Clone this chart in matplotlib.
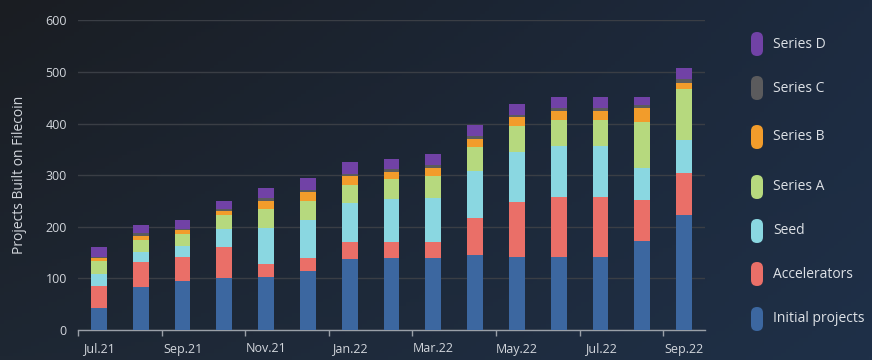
import numpy as np
import matplotlib
matplotlib.use("Agg")
import matplotlib.pyplot as plt
from matplotlib.patches import FancyBboxPatch

plt.rcParams['font.family'] = ['Open Sans', 'DejaVu Sans']

months = ["Jul.21", "Aug.21", "Sep.21", "Oct.21", "Nov.21", "Dec.21", "Jan.22",
          "Feb.22", "Mar.22", "Apr.22", "May.22", "Jun.22", "Jul.22", "Aug.22", "Sep.22"]

initial_projects = [42, 84, 95, 101, 102, 114, 137, 139, 139, 145, 141, 141, 141, 172, 222]
accelerators     = [44, 47, 46, 60, 25, 25, 33, 32, 31, 73, 108, 116, 116, 80, 82]
seed             = [23, 21, 22, 34, 71, 75, 77, 82, 86, 90, 96, 99, 99, 62, 65]
series_a         = [24, 23, 24, 27, 36, 37, 35, 39, 42, 47, 50, 51, 51, 90, 98]
series_b         = [6, 8, 6, 8, 17, 17, 17, 14, 17, 15, 17, 18, 18, 26, 12]
series_c         = [3, 5, 3, 5, 5, 3, 4, 6, 4, 6, 5, 5, 5, 7, 7]
series_d         = [18, 15, 18, 16, 19, 23, 22, 20, 22, 22, 21, 21, 21, 15, 21]

series_names = ["Initial projects", "Accelerators", "Seed", "Series A",
                "Series B", "Series C", "Series D"]
series_values = [initial_projects, accelerators, seed, series_a,
                 series_b, series_c, series_d]
series_colors = ["#3c67a0", "#ea6f68", "#8ad7e1", "#b6d97e",
                 "#f29c2b", "#5b5b5d", "#7142a6"]

y_ticks = [0, 100, 200, 300, 400, 500, 600]
x_label_every = 2
y_label = "Projects Built on Filecoin"

W, H = 872, 360
fig = plt.figure(figsize=(W / 100, H / 100), dpi=100)

# background gradient
bg = fig.add_axes([0, 0, 1, 1], zorder=-10)
gx = np.linspace(0, 1, 200)[None, :]
gy = np.linspace(0, 1, 100)[:, None]
c_tl = np.array([0x1a, 0x1d, 0x22]) / 255
c_tr = np.array([0x1d, 0x2b, 0x40]) / 255
c_bl = np.array([0x1e, 0x27, 0x33]) / 255
c_br = np.array([0x1f, 0x30, 0x48]) / 255
img = ((1 - gx)[..., None] * (1 - gy)[..., None] * c_tl + gx[..., None] * (1 - gy)[..., None] * c_tr
       + (1 - gx)[..., None] * gy[..., None] * c_bl + gx[..., None] * gy[..., None] * c_br)
bg.imshow(img, aspect='auto', extent=[0, 1, 1, 0])
bg.set_xlim(0, 1)
bg.set_ylim(1, 0)
bg.axis('off')

ax = fig.add_axes([78 / W, 1 - 330 / H, (705 - 78) / W, (330 - 20.5) / H])
ax.patch.set_alpha(0)

x = np.arange(len(months))
bottom = np.zeros(len(months))
for name, vals, col in zip(series_names, series_values, series_colors):
    ax.bar(x, vals, bottom=bottom, width=0.38, color=col, label=name, zorder=3)
    bottom += np.array(vals)

ax.set_xlim(-0.5, len(months) - 0.5)
ax.set_ylim(0, 600)
ax.set_yticks(y_ticks)
ax.set_yticklabels([str(v) for v in y_ticks], color="#d2d6dc", fontsize=9)
ax.tick_params(axis='y', length=0, pad=8)
ax.grid(axis='y', color="#3a3e45", linewidth=1.0, zorder=0)

ax.set_xticks(x[::x_label_every])
ax.set_xticklabels(months[::x_label_every], color="#d2d6dc", fontsize=9)
ax.tick_params(axis='x', length=0, pad=9)
ax.set_xticks(x[::x_label_every] - 0.5, minor=True)
ax.tick_params(axis='x', which='minor', length=4, color="#9aa0a8", width=1, direction='out')

for s in ['top', 'right', 'left']:
    ax.spines[s].set_visible(False)
ax.spines['bottom'].set_color("#9aa0a8")
ax.spines['bottom'].set_linewidth(1.0)

ax.set_ylabel(y_label, color="#d2d6dc", fontsize=10, labelpad=13)

# legend (manual pills)
lg = fig.add_axes([0, 0, 1, 1], zorder=5)
lg.set_xlim(0, W)
lg.set_ylim(H, 0)
lg.axis('off')
lg.patch.set_alpha(0)
leg_y = [319, 274, 231, 187, 137, 88, 44]
for name, col, yy in zip(series_names, series_colors, leg_y):
    p = FancyBboxPatch((751, yy - 12), 12, 24,
                       boxstyle="round,pad=0,rounding_size=6",
                       facecolor=col, edgecolor='none')
    lg.add_patch(p)
    lg.text(773, yy, name, color="#dde1e6", fontsize=10, va='center', ha='left')

fig.savefig("out.png", dpi=100)
